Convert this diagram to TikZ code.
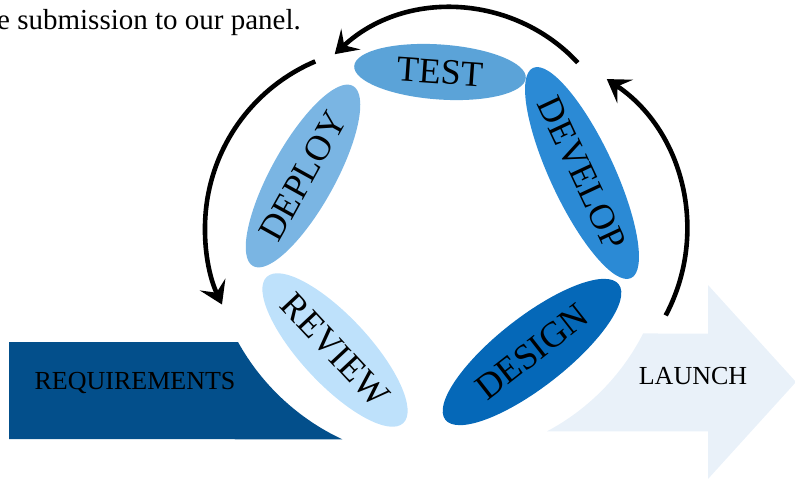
\documentclass[tikz,border=0pt]{standalone}
\usepackage{fontspec}
\setmainfont{Liberation Serif}
\usetikzlibrary{shapes.geometric,arrows.meta}
\definecolor{ctest}{HTML}{5BA3D8}
\definecolor{cdevelop}{HTML}{2B8AD5}
\definecolor{cdesign}{HTML}{0568B8}
\definecolor{creview}{HTML}{BEE1FB}
\definecolor{cdeploy}{HTML}{7AB5E3}
\definecolor{creq}{HTML}{034F8B}
\definecolor{claunch}{HTML}{E9F1F9}
\tikzset{
  phase/.style={ellipse, inner sep=0pt, font=\fontsize{36}{40}\selectfont},
  cyc/.style={line width=4.6pt, -{Stealth[length=22pt,width=28pt,inset=9pt]}},
}
\begin{document}
\begin{tikzpicture}[x=1pt,y=1pt]
\useasboundingbox (0,0) rectangle (795,480);
% top paragraph fragment
\node[anchor=base west, inner sep=0pt, font=\fontsize{29}{32}\selectfont] (para) at (-3,450) {e submission to our panel.};
% requirements block
\fill[creq] (9,41) -- (9,138) -- (238,138) arc[start angle=209, end angle=245, radius=231pt] -- cycle;
\node[font=\fontsize{26}{30}\selectfont] (req) at (135,97) {REQUIREMENTS};
% launch arrow
\fill[claunch] (547,48.7) arc[start angle=-62, end angle=-27, radius=228pt] -- (708,146.5) -- (708,195) -- (796,98) -- (708,1) -- (708,48.7) -- cycle;
\node[font=\fontsize{26}{30}\selectfont] (launch) at (693,104) {LAUNCH};
% phases
\node[phase, fill=ctest, minimum width=172pt, minimum height=55pt, rotate=-4] (test) at (440,408) {TEST};
\node[phase, fill=cdevelop, minimum width=220pt, minimum height=64pt, rotate=-65] (develop) at (582,307) {DEVELOP};
\node[phase, fill=cdeploy, minimum width=206pt, minimum height=64pt, rotate=61] (deploy) at (303,304) {DEPLOY};
\node[phase, fill=creview, minimum width=200pt, minimum height=68pt, rotate=-47] (review) at (335,130) {REVIEW};
\node[phase, fill=cdesign, minimum width=220pt, minimum height=70pt, rotate=38] (design) at (532,128) {DESIGN};
% cycle arrows
\coordinate (topA) at (577.8,417.3);
\coordinate (leftA) at (315.3,418.6);
\coordinate (rightA) at (665.7,164.6);
\draw[cyc] (topA) arc[start angle=43, end angle=133, radius=172pt];
\draw[cyc] (leftA) arc[start angle=113, end angle=205, radius=181pt];
\draw[cyc] (rightA) arc[start angle=-28, end angle=56, radius=182pt];
\end{tikzpicture}
\end{document}
